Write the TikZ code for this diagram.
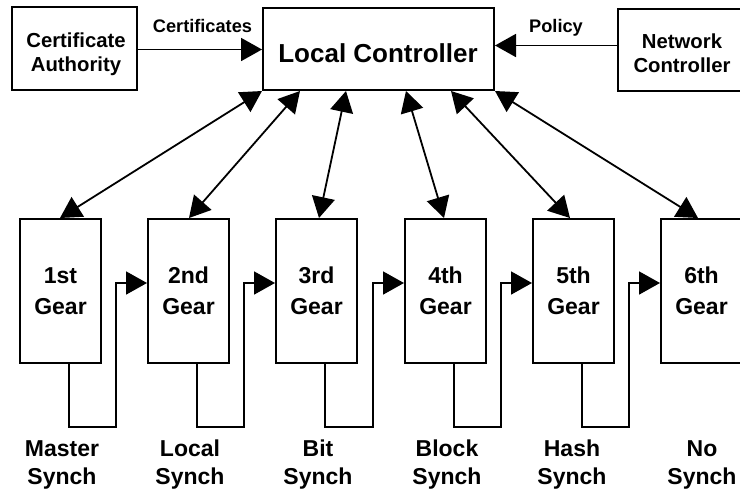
\documentclass[tikz,border=0pt]{standalone}
\usepackage{fontspec}
\setmainfont{Liberation Sans}
\usetikzlibrary{arrows.meta}
\begin{document}
\begin{tikzpicture}[x=1pt,y=-1pt,
  box/.style={draw, line width=2pt, inner sep=0pt, fill=white},
  gearbox/.style={box, minimum width=81pt, minimum height=144pt,
    font=\fontsize{23}{31}\selectfont\bfseries, align=center},
  txt/.style={inner sep=0pt, align=center},
  flow/.style={line width=1.8pt, -{Triangle[length=21pt,width=23pt]}},
  dbl/.style={line width=1.8pt, {Triangle[length=21pt,width=23pt]}-{Triangle[length=21pt,width=23pt]}},
  tagfont/.style={font=\fontsize{18.2}{22}\selectfont\bfseries},
  sidefont/.style={font=\fontsize{20.3}{24}\selectfont\bfseries},
  botfont/.style={font=\fontsize{23}{28}\selectfont\bfseries}]
\useasboundingbox (0,0) rectangle (740,491);

% top boxes
\node[box, minimum width=125pt, minimum height=82.5pt] (ca) at (74.5,48.5) {};
\node[box, minimum width=231pt, minimum height=82pt] (lc) at (378.5,49) {};
\node[box, minimum width=128pt, minimum height=82pt] (nc) at (682,50) {};
\node[txt, sidefont] (catext) at (76,54.5) {Certificate\\Authority};
\node[txt, anchor=base, font=\fontsize{26}{30}\selectfont\bfseries] (lctext) at (378,62) {Local Controller};
\node[txt, sidefont] (nctext) at (682,53) {Network\\Controller};

% gears
\node[gearbox] (g1) at (60.5,291) {1st\\Gear};
\node[gearbox] (g2) at (188.5,291) {2nd\\Gear};
\node[gearbox] (g3) at (316.5,291) {3rd\\Gear};
\node[gearbox] (g4) at (445.5,291) {4th\\Gear};
\node[gearbox] (g5) at (573.5,291) {5th\\Gear};
\node[gearbox] (g6) at (701.5,291) {6th\\Gear};

% bottom labels
\node[txt, botfont] (s1) at (62,465) {Master\\Synch};
\node[txt, botfont] (s2) at (190,465) {Local\\Synch};
\node[txt, botfont] (s3) at (318,465) {Bit\\Synch};
\node[txt, botfont] (s4) at (447,465) {Block\\Synch};
\node[txt, botfont] (s5) at (572,465) {Hash\\Synch};
\node[txt, botfont] (s6) at (702,465) {No\\Synch};

% horizontal arrows
\draw[flow] ([yshift=-1pt]ca.east) -- ([yshift=-1pt]ca.east -| lc.west)
  node[txt, tagfont, anchor=base, pos=0.52, yshift=17.5pt] (certlbl) {Certificates};
\draw[flow] ([yshift=4.5pt]nc.west) -- ([yshift=4.5pt]nc.west -| lc.east)
  node[txt, tagfont, anchor=base, pos=0.5, yshift=13.5pt] (pollbl) {Policy};

% double arrows
\draw[dbl] (lc.south west) -- ([xshift=-0.5pt]g1.north);
\draw[dbl] ([xshift=38pt]lc.south west) -- ([xshift=0.5pt]g2.north);
\draw[dbl] ([xshift=84pt]lc.south west) -- ([xshift=2.5pt]g3.north);
\draw[dbl] ([xshift=144pt]lc.south west) -- ([xshift=-1.5pt]g4.north);
\draw[dbl] ([xshift=189pt]lc.south west) -- ([xshift=-3.5pt]g5.north);
\draw[dbl] (lc.south east) -- ([xshift=-3.5pt]g6.north);

% synch loops
\draw[flow] ([xshift=8.5pt]g1.south) |- ([xshift=-31pt,yshift=-136pt]g2.west) |- ([yshift=8pt]g2.west);
\draw[flow] ([xshift=8.5pt]g2.south) |- ([xshift=-31pt,yshift=-136pt]g3.west) |- ([yshift=8pt]g3.west);
\draw[flow] ([xshift=8.5pt]g3.south) |- ([xshift=-31pt,yshift=-136pt]g4.west) |- ([yshift=8pt]g4.west);
\draw[flow] ([xshift=8.5pt]g4.south) |- ([xshift=-31pt,yshift=-136pt]g5.west) |- ([yshift=8pt]g5.west);
\draw[flow] ([xshift=8.5pt]g5.south) |- ([xshift=-31pt,yshift=-136pt]g6.west) |- ([yshift=8pt]g6.west);
\end{tikzpicture}
\end{document}
